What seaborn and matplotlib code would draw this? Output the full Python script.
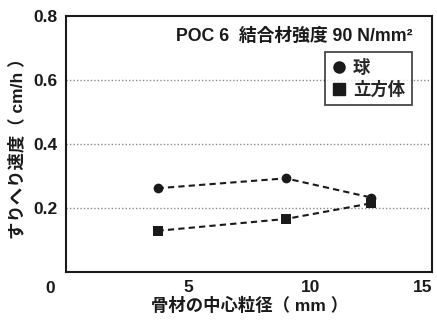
import matplotlib
matplotlib.use("Agg")
import matplotlib.pyplot as plt
from matplotlib.lines import Line2D
import pandas as pd
import seaborn as sns

# Aggregate centre size (mm) and wear rate (cm/h) for each aggregate shape
size_sphere = [3.75, 9.0, 12.5]
rate_sphere = [0.262, 0.293, 0.233]
size_cube = [3.75, 9.0, 12.5]
rate_cube = [0.129, 0.166, 0.215]
shapes = ["球", "立方体"]

y_ticks = [0.0, 0.2, 0.4, 0.6, 0.8]
y_tick_labels = ["", "0.2", "0.4", "0.6", "0.8"]
x_ticks = [5, 10, 15]
x_tick_labels = ["5", "10", "15"]

df = pd.DataFrame({
    "size": size_sphere + size_cube,
    "rate": rate_sphere + rate_cube,
    "shape": [shapes[0]] * len(size_sphere) + [shapes[1]] * len(size_cube),
})

sns.set_style("white")
fam = ["Liberation Sans", "Noto Sans CJK JP"]
plt.rcParams["font.family"] = fam
plt.rcParams["font.weight"] = "bold"

ink = "#1a1a1a"
fig = plt.figure(figsize=(4.37, 3.22), dpi=100)
ax = fig.add_axes([0.151, 0.155, 0.838, 0.795])

sns.lineplot(
    data=df, x="size", y="rate", hue="shape", style="shape",
    palette={shapes[0]: ink, shapes[1]: ink},
    markers={shapes[0]: "o", shapes[1]: "s"},
    dashes={shapes[0]: (3, 2), shapes[1]: (3, 2)},
    markersize=7, markeredgewidth=0, linewidth=1.5,
    legend=False, ax=ax,
)

ax.set_xlim(0, 15)
ax.set_ylim(0, 0.8)
ax.set_yticks(y_ticks)
ax.set_yticklabels(y_tick_labels)
ax.set_xticks(x_ticks)
ax.set_xticklabels(x_tick_labels)
ax.tick_params(direction="in", length=4, width=1.2, labelsize=12.5, colors=ink, pad=6)
for lab in ax.get_xticklabels() + ax.get_yticklabels():
    lab.set_fontweight("bold")
ax.get_xticklabels()[-1].set_horizontalalignment("right")
# shared origin label
ax.text(-0.044, -0.065, "0", transform=ax.transAxes, ha="center", va="center",
        fontsize=12.5, fontweight="bold", color=ink)

for v in [0.2, 0.4, 0.6]:
    ax.axhline(v, color="#8a8a8a", linestyle=(0, (1, 1.5)), linewidth=1.0, zorder=0)

for s in ax.spines.values():
    s.set_linewidth(1.5)
    s.set_color(ink)

ax.set_xlabel("骨材の中心粒径（ mm ）", fontsize=12.5, fontweight="bold",
              color=ink, labelpad=1)
ax.set_ylabel("すりへり速度（ cm/h ）", fontsize=12.5, fontweight="bold",
              color=ink, labelpad=6)

ax.text(0.30, 0.92, "POC 6  結合材強度 90 N/mm²", transform=ax.transAxes,
        ha="left", va="center", fontsize=12.8, fontweight="bold", color=ink)

handles = [
    Line2D([], [], linestyle="none", marker="o", color=ink, markersize=8),
    Line2D([], [], linestyle="none", marker="s", color=ink, markersize=8),
]
leg = ax.legend(handles, shapes, loc="upper right", bbox_to_anchor=(0.945, 0.86),
                borderaxespad=0, frameon=True, fancybox=False, handlelength=0.8,
                handletextpad=0.4, borderpad=0.4, labelspacing=0.3,
                prop={"family": fam, "weight": "bold", "size": 12.5})
leg.get_frame().set_edgecolor(ink)
leg.get_frame().set_linewidth(1.3)

fig.savefig("out.png", dpi=100)
